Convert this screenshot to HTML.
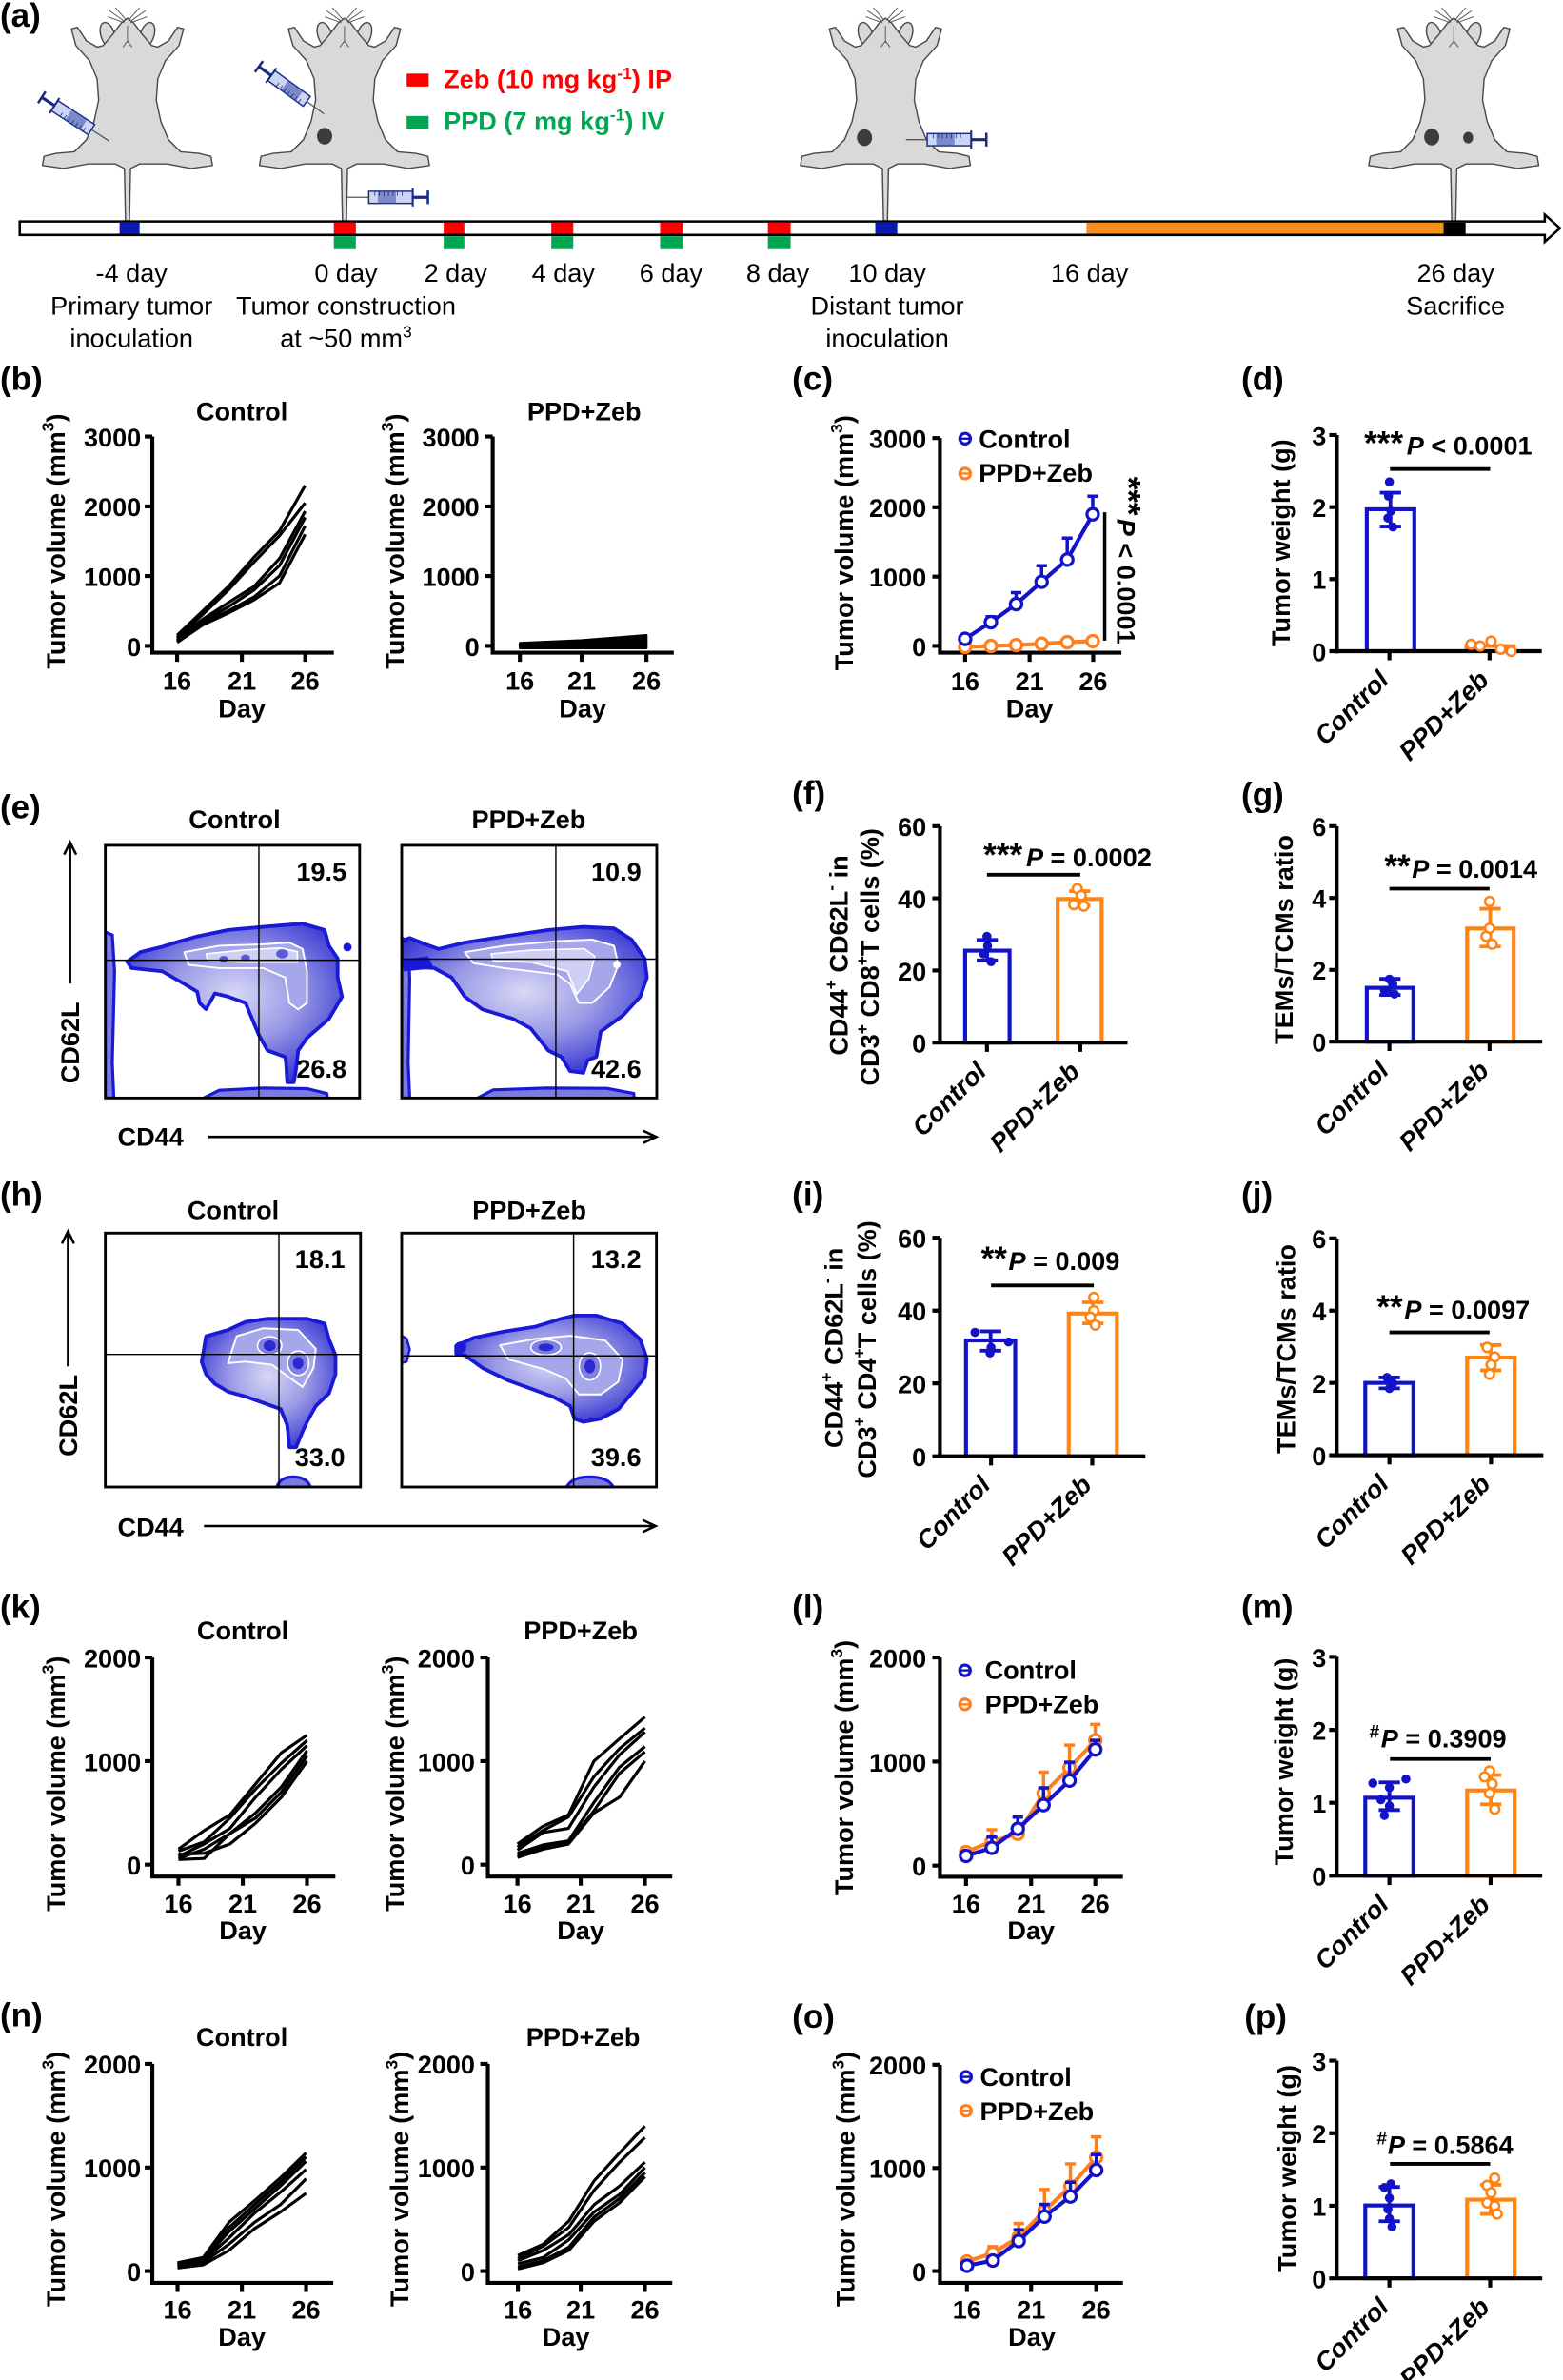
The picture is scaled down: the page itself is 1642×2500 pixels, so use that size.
<!DOCTYPE html>
<html><head><meta charset="utf-8">
<style>
html,body{margin:0;padding:0;background:#fff;}
svg{display:block;}
text{font-family:"Liberation Sans",Arial,sans-serif;font-weight:bold;font-size:17px;fill:#000;}
.r{font-weight:normal;}
.L{font-size:22px;}
.i{font-style:italic;}
</style></head><body>
<svg width="1642" height="2500" viewBox="0 0 1030 1568" preserveAspectRatio="none" xmlns="http://www.w3.org/2000/svg">
<defs>
<radialGradient id="cg" cx="50%" cy="45%" r="60%">
<stop offset="0" stop-color="#d8d8f6"/><stop offset="0.5" stop-color="#9898e6"/><stop offset="1" stop-color="#3434d2"/>
</radialGradient>
<g id="mouse">
<ellipse cx="-13" cy="23" rx="4.5" ry="8.5" transform="rotate(-18 -13 23)" fill="#d9d9d9" stroke="#4a4a4a" stroke-width="0.9"/>
<ellipse cx="13" cy="23" rx="4.5" ry="8.5" transform="rotate(18 13 23)" fill="#d9d9d9" stroke="#4a4a4a" stroke-width="0.9"/>
<path d="M-37,19 L-33,18 L-27,27 L-20,31 L-16,30 L-10,23 L-4,15 L0,12 L4,15 L10,23 L16,30 L20,31 L27,27 L33,18 L37,19 L34,30 L25,40 L20,52 L19,66 L22,80 L27,92 L35,100 L47,101 L55,103 L56,109 L42,111 L26,108 L8,108 L2,111 L1.3,145.6 L-1.3,145.6 L-2,111 L-8,108 L-26,108 L-42,111 L-56,109 L-55,103 L-47,101 L-35,100 L-27,92 L-22,80 L-19,66 L-20,52 L-25,40 L-34,30 Z" fill="#d9d9d9" stroke="#4a4a4a" stroke-width="0.9" stroke-linejoin="round"/>
<path d="M-2,14 L-12,7 M-2,15 L-13,11 M-1,13 L-8,5 M2,14 L12,7 M2,15 L13,11 M1,13 L8,5 M0,17 V28 M-3,31 L0,27 L3,31" stroke="#555" stroke-width="0.6" fill="none"/>
</g>
<g id="syr">
<line x1="0" y1="0" x2="14" y2="0" stroke="#555" stroke-width="0.8"/>
<rect x="14" y="-4" width="29" height="8" fill="#cdd5f4" stroke="#1a2a80" stroke-width="0.9"/>
<rect x="20" y="-4" width="12" height="8" fill="#3a4aa8" opacity="0.55"/>
<path d="M18,-4 V-1 M21,-4 V-1 M24,-4 V-1 M27,-4 V-1 M30,-4 V-1 M33,-4 V-1 M36,-4 V-1" stroke="#1a2a80" stroke-width="0.5"/>
<line x1="43" y1="-6" x2="43" y2="6" stroke="#1a2a80" stroke-width="1.3"/>
<line x1="43" y1="0" x2="53" y2="0" stroke="#1a2a80" stroke-width="2"/>
<line x1="53" y1="-4.5" x2="53" y2="4.5" stroke="#1a2a80" stroke-width="1.6"/>
</g>
<clipPath id="ce1"><rect x="69.4" y="556.9" width="167.6" height="166.5"/></clipPath>
<clipPath id="ce2"><rect x="264.7" y="556.9" width="168.1" height="166.5"/></clipPath>
<clipPath id="ch1"><rect x="69.4" y="812.4" width="168.2" height="167.3"/></clipPath>
<clipPath id="ch2"><rect x="264.7" y="812.4" width="167.9" height="167.3"/></clipPath>
</defs>

<!-- ================= (a) ================= -->
<text class="L" x="0" y="17.5">(a)</text>
<use href="#mouse" x="84"/>
<use href="#mouse" x="227"/>
<use href="#mouse" x="583.5"/>
<use href="#mouse" x="958"/>
<ellipse cx="213.9" cy="89.7" rx="5" ry="5.5" fill="#3c3c3c"/>
<ellipse cx="569.7" cy="90.7" rx="5" ry="5.5" fill="#3c3c3c"/>
<ellipse cx="943.5" cy="90.3" rx="5" ry="5.5" fill="#3c3c3c"/>
<ellipse cx="967.5" cy="90.7" rx="3.3" ry="3.8" fill="#3c3c3c"/>
<use href="#syr" transform="translate(72,93) rotate(213)"/>
<use href="#syr" transform="translate(213.5,75) rotate(216)"/>
<use href="#syr" transform="translate(229,130)"/>
<use href="#syr" transform="translate(597,92)"/>

<rect x="268" y="48.5" width="14.5" height="8.5" fill="#ff0000"/>
<text x="292.4" y="58" fill="#ff0000" style="fill:#ff0000">Zeb (10 mg kg<tspan dy="-6" font-size="11">-1</tspan><tspan dy="6">) IP</tspan></text>
<rect x="268" y="76.4" width="14.5" height="8.5" fill="#00a651"/>
<text x="292.4" y="85.5" style="fill:#00a651">PPD (7 mg kg<tspan dy="-6" font-size="11">-1</tspan><tspan dy="6">) IV</tspan></text>

<path d="M13,145.9 L1018,145.9 L1018,141.4 L1028,150.35 L1018,159.3 L1018,154.8 L13,154.8 Z" fill="#fff" stroke="#000" stroke-width="1.6"/>
<rect x="716" y="146.7" width="235.3" height="7.3" fill="#f7901e"/>
<rect x="951.3" y="146.7" width="14.5" height="7.3" fill="#000"/>
<rect x="78.8" y="146.7" width="13.2" height="7.3" fill="#0a1ab0"/>
<rect x="576.8" y="146.7" width="14.5" height="7.3" fill="#0a1ab0"/>
<g fill="#ff0000">
<rect x="220" y="146.7" width="14.5" height="7.3"/><rect x="292.4" y="146.7" width="13.6" height="7.3"/><rect x="363.3" y="146.7" width="14.5" height="7.3"/><rect x="435" y="146.7" width="15" height="7.3"/><rect x="506" y="146.7" width="15" height="7.3"/>
</g>
<g fill="#00a651">
<rect x="220" y="155.7" width="14.5" height="8.5"/><rect x="292.4" y="155.7" width="13.6" height="8.5"/><rect x="363.3" y="155.7" width="14.5" height="8.5"/><rect x="435" y="155.7" width="15" height="8.5"/><rect x="506" y="155.7" width="15" height="8.5"/>
</g>
<g class="r" text-anchor="middle">
<text class="r" x="86.7" y="185.5">-4 day</text>
<text class="r" x="228" y="185.5">0 day</text>
<text class="r" x="300.3" y="185.5">2 day</text>
<text class="r" x="371.2" y="185.5">4 day</text>
<text class="r" x="442.2" y="185.5">6 day</text>
<text class="r" x="512.5" y="185.5">8 day</text>
<text class="r" x="584.7" y="185.5">10 day</text>
<text class="r" x="718" y="185.5">16 day</text>
<text class="r" x="959.2" y="185.5">26 day</text>
<text class="r" x="86.7" y="207.4">Primary tumor</text>
<text class="r" x="86.7" y="228.5">inoculation</text>
<text class="r" x="228" y="207.4">Tumor construction</text>
<text class="r" x="228" y="228.5">at ~50 mm<tspan dy="-6" font-size="11">3</tspan></text>
<text class="r" x="584.7" y="207.4">Distant tumor</text>
<text class="r" x="584.7" y="228.5">inoculation</text>
<text class="r" x="959.2" y="207.4">Sacrifice</text>
</g>

<!-- ================= (b) ================= -->
<text class="L" x="0" y="257">(b)</text>
<text x="159.4" y="277" text-anchor="middle">Control</text>
<text x="385" y="277" text-anchor="middle">PPD+Zeb</text>
<g stroke="#000" stroke-width="2.6" fill="none">
<path d="M100.4,287.6 V431.3 M99.1,430 H220 M95.4,287.6 H100.4 M95.4,333.6 H100.4 M95.4,379.5 H100.4 M95.4,425.5 H100.4 M116.7,430 V436 M159.4,430 V436 M201.1,430 V436"/>
<path d="M324.7,287.6 V431.3 M323.4,430 H444 M319.7,287.6 H324.7 M319.7,333.6 H324.7 M319.7,379.5 H324.7 M319.7,425.5 H324.7 M342.6,430 V436 M383.3,430 V436 M426,430 V436"/>
</g>
<g stroke="#000" stroke-width="2" fill="none" stroke-linejoin="round">
<polyline points="116.7,418.6 133.6,402.5 150.5,386.4 167.4,367.1 184.2,349.7 201.1,319.8"/>
<polyline points="116.7,420 133.6,404.8 150.5,388.7 167.4,370.3 184.2,352.9 201.1,331.3"/>
<polyline points="116.7,420.9 133.6,408 150.5,397 167.4,386.4 184.2,368 201.1,336.8"/>
<polyline points="116.7,421.8 133.6,409.4 150.5,399.8 167.4,388.7 184.2,372.6 201.1,340.9"/>
<polyline points="116.7,422.7 133.6,410.8 150.5,402.5 167.4,393.3 184.2,379.5 201.1,346.4"/>
<polyline points="116.7,423.2 133.6,411.7 150.5,403.9 167.4,395.2 184.2,384.1 201.1,352"/>
</g>
<polygon points="342.6,423.6 383.3,421.8 426,418.5 426,427 342.6,427" fill="#000" stroke="#000" stroke-width="1.5" stroke-linejoin="round"/>
<g text-anchor="end">
<text x="93" y="294.1">3000</text><text x="93" y="340.1">2000</text><text x="93" y="386">1000</text><text x="93" y="432">0</text>
<text x="316" y="294.1">3000</text><text x="316" y="340.1">2000</text><text x="316" y="386">1000</text><text x="316" y="432">0</text>
</g>
<g text-anchor="middle">
<text x="116.7" y="454.5">16</text><text x="159.4" y="454.5">21</text><text x="201.1" y="454.5">26</text>
<text x="159.4" y="472.5">Day</text>
<text x="342.6" y="454.5">16</text><text x="383.3" y="454.5">21</text><text x="426" y="454.5">26</text>
<text x="384" y="472.5">Day</text>
<text transform="translate(42.5,356.6) rotate(-90)">Tumor volume (mm<tspan dy="-7" font-size="11">3</tspan><tspan dy="7">)</tspan></text>
<text transform="translate(266,356.6) rotate(-90)">Tumor volume (mm<tspan dy="-7" font-size="11">3</tspan><tspan dy="7">)</tspan></text>
</g>

<!-- ================= (c) ================= -->
<text class="L" x="522" y="257">(c)</text>
<g stroke="#000" stroke-width="2.6" fill="none">
<path d="M619.4,288.6 V431.3 M618.1,430 H739 M614.4,288.6 H619.4 M614.4,334.2 H619.4 M614.4,379.9 H619.4 M614.4,425.5 H619.4 M636,430 V436 M678.5,430 V436 M720.4,430 V436"/>
<path d="M728,337.5 V422" stroke-width="2.2"/>
</g>
<g text-anchor="end">
<text x="610.5" y="295.1">3000</text><text x="610.5" y="340.7">2000</text><text x="610.5" y="386.4">1000</text><text x="610.5" y="432">0</text>
</g>
<g text-anchor="middle">
<text x="636" y="454.8">16</text><text x="678.5" y="454.8">21</text><text x="720.4" y="454.8">26</text>
<text x="678.5" y="472.5">Day</text>
<text transform="translate(562,357.6) rotate(-90)">Tumor volume (mm<tspan dy="-7" font-size="11">3</tspan><tspan dy="7">)</tspan></text>
</g>
<text transform="translate(736,314) rotate(90)"><tspan font-size="22">***</tspan><tspan dx="2" class="i" font-style="italic">P</tspan> &lt; 0.0001</text>
<g stroke="#ff7f1e" stroke-width="2.6" fill="none">
<polyline points="636,426.2 653,425.6 669.6,425 686.4,424.1 703.3,423.1 720.1,422.4"/>
</g>
<g stroke="#ff7f1e" stroke-width="2" fill="#fff">
<circle cx="636" cy="426.2" r="3.8"/><circle cx="653" cy="425.6" r="3.8"/><circle cx="669.6" cy="425" r="3.8"/><circle cx="686.4" cy="424.1" r="3.8"/><circle cx="703.3" cy="423.1" r="3.8"/><circle cx="720.1" cy="422.4" r="3.8"/>
</g>
<g stroke="#1212c8" stroke-width="2.2" fill="none">
<polyline points="636,420.9 653,409.9 669.6,398 686.4,383.3 703.3,368.7 720.1,338.8" stroke-width="2.6"/>
<path d="M653,409.9 V406.3 M649.5,406.3 H656.5 M669.6,398 V390.4 M666.1,390.4 H673.1 M686.4,383.3 V372.7 M682.9,372.7 H689.9 M703.3,368.7 V354.5 M699.8,354.5 H706.8 M720.1,338.8 V326.9 M716.6,326.9 H723.6"/>
</g>
<g stroke="#1212c8" stroke-width="2" fill="#fff">
<circle cx="636" cy="420.9" r="3.8"/><circle cx="653" cy="409.9" r="3.8"/><circle cx="669.6" cy="398" r="3.8"/><circle cx="686.4" cy="383.3" r="3.8"/><circle cx="703.3" cy="368.7" r="3.8"/><circle cx="720.1" cy="338.8" r="3.8"/>
</g>
<circle cx="636" cy="289" r="3.5" stroke="#1212c8" stroke-width="2" fill="#fff"/>
<line x1="633" y1="289" x2="639" y2="289" stroke="#1212c8" stroke-width="1.5"/>
<circle cx="636" cy="312" r="3.5" stroke="#ff7f1e" stroke-width="2" fill="#fff"/>
<line x1="633" y1="312" x2="639" y2="312" stroke="#ff7f1e" stroke-width="1.5"/>
<text x="645" y="295">Control</text>
<text x="645" y="317.5">PPD+Zeb</text>

<!-- ================= (d) ================= -->
<text class="L" x="818" y="257">(d)</text>
<rect x="900.7" y="335.5" width="31.3" height="93.5" fill="#fff" stroke="#1212c8" stroke-width="2.6"/>
<rect x="966.3" y="425.6" width="31.3" height="3.4" fill="#fff" stroke="#ff7f1e" stroke-width="2.4"/>
<g stroke="#000" stroke-width="2.6" fill="none">
<path d="M881,286.6 V430.5 M879.7,429 H1016 M876,286.6 H881 M876,334.1 H881 M876,381.5 H881 M876,429 H881 M915.6,429 V435 M981.6,429 V435"/>
<path d="M916,309 H982" stroke-width="2.4"/>
</g>
<path d="M916.3,346.9 V324.6 M909.3,324.6 H923.3 M909.3,346.9 H923.3" stroke="#1212c8" stroke-width="2.4" fill="none"/>
<g fill="#1212c8">
<circle cx="915.6" cy="317.5" r="3"/><circle cx="915" cy="326.9" r="3"/><circle cx="916.6" cy="336.7" r="3"/><circle cx="914.6" cy="341.3" r="3"/><circle cx="917.9" cy="347.2" r="3"/>
</g>
<g stroke="#ff7f1e" stroke-width="1.6" fill="#fff">
<circle cx="969.4" cy="424.5" r="3"/><circle cx="975.4" cy="425.6" r="3"/><circle cx="982.6" cy="422.4" r="3"/><circle cx="988.9" cy="427.7" r="3"/><circle cx="995.8" cy="429.1" r="3"/>
</g>
<g text-anchor="end">
<text x="874" y="293.1">3</text><text x="874" y="340.6">2</text><text x="874" y="388">1</text><text x="874" y="435.5">0</text>
<text class="i" transform="translate(916.1,449) rotate(-45)">Control</text>
<text class="i" transform="translate(982.1,449) rotate(-45)">PPD+Zeb</text>
</g>
<text text-anchor="middle" transform="translate(850,357.6) rotate(-90)">Tumor weight (g)</text>
<text x="899" y="299.5"><tspan font-size="22">***</tspan><tspan dx="2.3" class="i">P</tspan> &lt; 0.0001</text>

<!-- ================= (e) ================= -->
<text class="L" x="0" y="539">(e)</text>
<text x="154.6" y="545.8" text-anchor="middle">Control</text>
<text x="348.4" y="545.8" text-anchor="middle">PPD+Zeb</text>
<g clip-path="url(#ce1)">
<path d="M69.4,614 L74,616 L75.5,640 L74,700 L75,723.4 L69.4,723.4 Z" fill="#7c7ce0" stroke="#1a1ad6" stroke-width="2"/>
<path d="M133,724 L144.5,718.3 L173.4,716.8 L202.3,717.2 L215.3,720.4 L216,724 Z" fill="#7c7ce0" stroke="#1a1ad6" stroke-width="2"/>
<path d="M83.8,633.6 L92.5,627.3 L106,624 L115.6,621 L130,616.9 L150.3,612.7 L173.4,610.6 L199.4,608.5 L213.9,612.7 L216.8,623.1 L222.5,631.5 L222.5,644 L225.4,656.6 L216.8,671.2 L202.3,683.8 L196.5,692.1 L195,705 L193.6,713 L189.3,713 L188.5,700 L187.9,696.3 L176.3,692.1 L170.5,681.7 L161.8,660.8 L150.3,656.6 L141.6,654.5 L135.8,664.9 L131.5,660.8 L130,653.4 L121.4,648.2 L106.9,639.9 L86.7,637.8 Z" fill="url(#cg)" stroke="#1a1ad6" stroke-width="2.4" stroke-linejoin="round"/>
<path d="M121.4,627.3 L144.5,623.1 L173.4,622.1 L190.7,621 L199.4,625.2 L202.3,639.9 L202.3,660.8 L196.5,665 L190.7,660.8 L187.9,644 L173.4,637.8 L144.5,637.8 L124.3,635.7 Z" fill="#a6a6ea" stroke="#fff" stroke-width="1.2" stroke-linejoin="round"/>
<path d="M135.8,628.4 L160,626 L185,624.5 L196,627 L196,634 L180,634 L160,634 L137,633 Z" fill="#d0d0f4" stroke="#fff" stroke-width="1" stroke-linejoin="round"/>
<ellipse cx="147.4" cy="632" rx="3" ry="2.2" fill="#5a5adc"/>
<ellipse cx="161.8" cy="631" rx="3" ry="2.2" fill="#5a5adc"/>
<ellipse cx="186" cy="628.4" rx="4" ry="3" fill="#5a5adc"/>
<circle cx="229" cy="624" r="2.8" fill="#1a1ad6"/>
</g>
<g clip-path="url(#ce2)">
<path d="M264.7,618 L269,620 L270,645 L269,700 L270,723.4 L264.7,723.4 Z" fill="#7c7ce0" stroke="#1a1ad6" stroke-width="2"/>
<path d="M313.6,724 L325,718 L360,716.8 L400,717 L417.6,720.4 L418,724 Z" fill="#7c7ce0" stroke="#1a1ad6" stroke-width="2"/>
<path d="M264.7,620 L270,618 L280,622 L289,625.2 L306.3,621 L332.4,616.9 L361.3,612.7 L384.4,610.6 L404.6,611.6 L416.2,619 L424.8,631.5 L426.3,644 L421.9,656.6 L410.4,669.1 L395.9,679.6 L393,696.3 L387.3,698.4 L384.4,706.8 L375.7,705.7 L369.9,696.3 L361.3,692.1 L349.7,677.5 L338.1,671.2 L317.9,665 L306.3,656.6 L297.7,644 L286.1,637.8 L264.7,636.7 Z" fill="url(#cg)" stroke="#1a1ad6" stroke-width="2.4" stroke-linejoin="round"/>
<path d="M306.3,627.3 L332.4,623.1 L367,620 L390.2,619 L404.6,623.1 L407.5,635.7 L401.7,650.3 L390.2,660.8 L381.5,660.8 L375.7,648.2 L367,641.9 L332.4,637.8 L312.1,634.6 Z" fill="#a6a6ea" stroke="#fff" stroke-width="1.2" stroke-linejoin="round"/>
<path d="M323.7,628.4 L350,626 L385,625 L392,630 L388,645 L380,655 L374,640 L350,634 L325,633 Z" fill="#d0d0f4" stroke="#fff" stroke-width="1" stroke-linejoin="round"/>
<circle cx="406.5" cy="635.5" r="2.5" fill="#fff"/>
<path d="M266,632 L282,630 L286,638 L266,640 Z" fill="#1a1ad6"/>
</g>
<g stroke="#000" fill="none">
<rect x="69.4" y="556.9" width="167.6" height="166.5" stroke-width="1.8"/>
<rect x="264.7" y="556.9" width="168.1" height="166.5" stroke-width="1.8"/>
<path d="M170.6,556.9 V723.4 M69.4,632.6 H237 M366.3,556.9 V723.4 M264.7,631.9 H432.8" stroke-width="0.9"/>
</g>
<g text-anchor="end">
<text x="228.4" y="580.3">19.5</text><text x="228.4" y="710">26.8</text>
<text x="422.6" y="580.3">10.9</text><text x="422.6" y="710">42.6</text>
</g>
<path d="M46.2,648 V556 M42.2,563 L46.2,555 L50.2,563" stroke="#000" stroke-width="1.6" fill="none"/>
<text text-anchor="middle" transform="translate(52,687) rotate(-90)">CD62L</text>
<text x="77.5" y="754.9">CD44</text>
<path d="M137.3,749 H432 M424,745 L432.5,749 L424,753" stroke="#000" stroke-width="1.6" fill="none"/>

<!-- ================= (f) ================= -->
<text class="L" x="522" y="530">(f)</text>
<rect x="636" y="626.3" width="29.3" height="60.6" fill="#fff" stroke="#1212c8" stroke-width="2.6"/>
<rect x="697" y="592.3" width="29" height="94.6" fill="#fff" stroke="#ff8412" stroke-width="2.6"/>
<g stroke="#000" stroke-width="2.6" fill="none">
<path d="M619.4,544.3 V688.2 M618.1,686.9 H743 M614.4,544.3 H619.4 M614.4,591.8 H619.4 M614.4,639.4 H619.4 M614.4,686.9 H619.4 M650.4,686.9 V693 M711.9,686.9 V693"/>
<path d="M650.4,576.3 H711.9" stroke-width="2.4"/>
</g>
<path d="M650.6,632.7 V619.2 M643.6,619.2 H657.6 M643.6,632.7 H657.6" stroke="#1212c8" stroke-width="2.4" fill="none"/>
<path d="M711.5,596.6 V587.1 M704.5,587.1 H718.5 M704.5,596.6 H718.5" stroke="#ff8412" stroke-width="2.4" fill="none"/>
<g fill="#1212c8"><circle cx="650.4" cy="616.9" r="3"/><circle cx="650.8" cy="623.1" r="3"/><circle cx="648.1" cy="628.4" r="3"/><circle cx="653.1" cy="633.6" r="3"/></g>
<g stroke="#ff8412" stroke-width="1.6" fill="#fff"><circle cx="709.9" cy="585.5" r="3"/><circle cx="712.5" cy="590" r="3"/><circle cx="707.6" cy="596" r="3"/><circle cx="714.2" cy="597" r="3"/></g>
<g text-anchor="end">
<text x="610.5" y="550.8">60</text><text x="610.5" y="598.3">40</text><text x="610.5" y="645.9">20</text><text x="610.5" y="693.4">0</text>
<text class="i" transform="translate(650.9,706.9) rotate(-45)">Control</text>
<text class="i" transform="translate(712.4,706.9) rotate(-45)">PPD+Zeb</text>
</g>
<text text-anchor="middle" transform="translate(558.5,629.4) rotate(-90)">CD44<tspan dy="-7" font-size="11">+</tspan><tspan dy="7"> CD62L</tspan><tspan dy="-7" font-size="11">-</tspan><tspan dy="7"> in</tspan></text>
<text text-anchor="middle" transform="translate(579,630.5) rotate(-90)">CD3<tspan dy="-7" font-size="11">+</tspan><tspan dy="7"> CD8</tspan><tspan dy="-7" font-size="11">+</tspan><tspan dy="7">T cells (%)</tspan></text>
<text x="648.1" y="570.9"><tspan font-size="22">***</tspan><tspan dx="2.4" class="i">P</tspan> = 0.0002</text>

<!-- ================= (g) ================= -->
<text class="L" x="818" y="531">(g)</text>
<rect x="900.7" y="650.8" width="30.7" height="35.5" fill="#fff" stroke="#1212c8" stroke-width="2.6"/>
<rect x="966.8" y="611.7" width="30.7" height="74.6" fill="#fff" stroke="#ff8412" stroke-width="2.6"/>
<g stroke="#000" stroke-width="2.6" fill="none">
<path d="M880.9,544.3 V687.6 M879.6,686.3 H1016.3 M875.9,544.3 H880.9 M875.9,591.6 H880.9 M875.9,639 H880.9 M875.9,686.3 H880.9 M915.6,686.3 V692.4 M981.6,686.3 V692.4"/>
<path d="M915.6,585.5 H981.6" stroke-width="2.4"/>
</g>
<path d="M916,655.5 V644.9 M909,644.9 H923 M909,655.5 H923" stroke="#1212c8" stroke-width="2.4" fill="none"/>
<path d="M982,623.6 V598.7 M975,598.7 H989 M975,623.6 H989" stroke="#ff8412" stroke-width="2.4" fill="none"/>
<g fill="#1212c8"><circle cx="915.6" cy="645.1" r="3"/><circle cx="917.9" cy="648.2" r="3"/><circle cx="912.3" cy="652.4" r="3"/><circle cx="918.9" cy="654.9" r="3"/></g>
<g stroke="#ff8412" stroke-width="1.6" fill="#fff"><circle cx="981.6" cy="593.9" r="3"/><circle cx="981.6" cy="611.6" r="3"/><circle cx="979.3" cy="616.9" r="3"/><circle cx="983.3" cy="622.1" r="3"/></g>
<g text-anchor="end">
<text x="874" y="550.8">6</text><text x="874" y="598.1">4</text><text x="874" y="645.5">2</text><text x="874" y="692.8">0</text>
<text class="i" transform="translate(916.1,706.3) rotate(-45)">Control</text>
<text class="i" transform="translate(982.1,706.3) rotate(-45)">PPD+Zeb</text>
</g>
<text text-anchor="middle" transform="translate(852,619) rotate(-90)">TEMs/TCMs ratio</text>
<text x="912.3" y="578.2"><tspan font-size="22">**</tspan><tspan dx="1" class="i">P</tspan> = 0.0014</text>

<!-- ================= (h) ================= -->
<text class="L" x="0" y="794.5">(h)</text>
<text x="153.7" y="803" text-anchor="middle">Control</text>
<text x="348.8" y="803" text-anchor="middle">PPD+Zeb</text>
<g clip-path="url(#ch1)">
<path d="M182,981 Q184,973 193,973 Q203,973 205,981 Z" fill="#7c7ce0" stroke="#1a1ad6" stroke-width="2"/>
<path d="M135.8,880.3 L150.3,876.2 L161.8,870.9 L176.3,868.8 L202.3,868.8 L213.9,872 L216.8,882.4 L221.1,892.9 L221.1,905.4 L216.8,918 L208.1,926.3 L202.3,936.8 L199.4,943.1 L195.1,953.5 L190.7,953.5 L189.3,938.9 L185,928.4 L173.4,924.2 L161.8,920.1 L150.3,916.9 L141.6,911.7 L135.8,905.4 L132.9,897.1 L134.4,888.7 Z" fill="url(#cg)" stroke="#1a1ad6" stroke-width="2.4" stroke-linejoin="round"/>
<path d="M156,880.3 L173.4,875.1 L196.5,876.2 L208.1,888.7 L206.6,901.2 L199.4,913.8 L190.7,907.5 L179.2,899.1 L161.8,897.1 L150.3,898.1 L153.2,888.7 Z" fill="#a6a6ea" stroke="#fff" stroke-width="1.2" stroke-linejoin="round"/>
<ellipse cx="177.7" cy="886.6" rx="8" ry="6" fill="#8080e0" stroke="#fff" stroke-width="1"/>
<ellipse cx="196.5" cy="898.1" rx="7" ry="8" fill="#8080e0" stroke="#fff" stroke-width="1"/>
<ellipse cx="177.7" cy="886.6" rx="4" ry="3.5" fill="#2a2ad0"/>
<ellipse cx="196.5" cy="898.1" rx="3.5" ry="4" fill="#2a2ad0"/>
</g>
<g clip-path="url(#ch2)">
<path d="M264.7,880 L268,882 L270,889 L268,897 L264.7,898 Z" fill="#7c7ce0" stroke="#1a1ad6" stroke-width="1.6"/>
<path d="M372.8,981 Q376,973 388,973 Q402,973 404.6,981 Z" fill="#7c7ce0" stroke="#1a1ad6" stroke-width="2"/>
<path d="M300.6,886.6 L312.1,881.4 L332.4,877.2 L352.6,874.1 L369.9,868.8 L378.6,866.7 L393,866.7 L410.4,872 L421.9,882.4 L426.3,895 L424.8,907.5 L416.2,918 L407.5,928.4 L395.9,934.7 L384.4,936.8 L378.6,934.7 L375.7,926.3 L364.1,920.1 L346.8,913.8 L335.2,909.6 L317.9,901.2 L306.3,892.9 L300.6,891.8 Z" fill="url(#cg)" stroke="#1a1ad6" stroke-width="2.4" stroke-linejoin="round"/>
<path d="M329.5,886.3 L352.6,882.1 L375.7,880 L398.8,883.1 L410.4,895.7 L407.5,910.3 L395.9,918.7 L381.5,918.7 L372.8,908.2 L358.4,902 L335.2,895.7 Z" fill="#a6a6ea" stroke="#fff" stroke-width="1.2" stroke-linejoin="round"/>
<ellipse cx="359.8" cy="887.7" rx="10" ry="5" fill="#8080e0" stroke="#fff" stroke-width="1"/>
<ellipse cx="388.7" cy="900.2" rx="7" ry="9" fill="#8080e0" stroke="#fff" stroke-width="1"/>
<ellipse cx="359.8" cy="887.7" rx="5" ry="2.5" fill="#2a2ad0"/>
<ellipse cx="388.7" cy="900.2" rx="3.5" ry="4.5" fill="#2a2ad0"/>
<circle cx="303.5" cy="887.6" r="3.8" fill="#1a1ad6"/>
</g>
<g stroke="#000" fill="none">
<rect x="69.4" y="812.4" width="168.2" height="167.3" stroke-width="1.8"/>
<rect x="264.7" y="812.4" width="167.9" height="167.3" stroke-width="1.8"/>
<path d="M183.8,812.4 V979.7 M69.4,892.3 H237.6 M378,812.4 V979.7 M264.7,893.3 H432.6" stroke-width="0.9"/>
</g>
<g text-anchor="end">
<text x="227.4" y="835.4">18.1</text><text x="227.4" y="966">33.0</text>
<text x="422.5" y="835.4">13.2</text><text x="422.5" y="966">39.6</text>
</g>
<path d="M44.8,900.2 V812.3 M40.8,819.3 L44.8,811.3 L48.8,819.3" stroke="#000" stroke-width="1.6" fill="none"/>
<text text-anchor="middle" transform="translate(50.8,932.6) rotate(-90)">CD62L</text>
<text x="77.5" y="1012">CD44</text>
<path d="M134.4,1005.4 H431.5 M423.5,1001.4 L432,1005.4 L423.5,1009.4" stroke="#000" stroke-width="1.6" fill="none"/>

<!-- ================= (i) ================= -->
<text class="L" x="522" y="794.5">(i)</text>
<rect x="636.6" y="883.1" width="32.4" height="76.3" fill="#fff" stroke="#1212c8" stroke-width="2.6"/>
<rect x="704.3" y="865.4" width="31.7" height="94" fill="#fff" stroke="#ff8412" stroke-width="2.6"/>
<g stroke="#000" stroke-width="2.6" fill="none">
<path d="M619.4,815.5 V960.7 M618.1,959.4 H754.8 M614.4,815.5 H619.4 M614.4,863.5 H619.4 M614.4,911.4 H619.4 M614.4,959.4 H619.4 M653.1,959.4 V965.5 M719.8,959.4 V965.5"/>
<path d="M653.1,846.9 H720.8" stroke-width="2.4"/>
</g>
<path d="M652.8,889.9 V877.1 M645.8,877.1 H659.8 M645.8,889.9 H659.8" stroke="#1212c8" stroke-width="2.4" fill="none"/>
<path d="M720.2,871.9 V858 M713.2,858 H727.2 M713.2,871.9 H727.2" stroke="#ff8412" stroke-width="2.4" fill="none"/>
<g fill="#1212c8"><circle cx="642.5" cy="877.8" r="3"/><circle cx="664.6" cy="884.1" r="3"/><circle cx="653.1" cy="887.7" r="3"/><circle cx="652.4" cy="891.4" r="3"/></g>
<g stroke="#ff8412" stroke-width="1.6" fill="#fff"><circle cx="720.8" cy="854.8" r="3"/><circle cx="720.8" cy="863.6" r="3"/><circle cx="718.5" cy="867.8" r="3"/><circle cx="721.8" cy="873" r="3"/></g>
<g text-anchor="end">
<text x="610.5" y="822">60</text><text x="610.5" y="870">40</text><text x="610.5" y="917.9">20</text><text x="610.5" y="965.9">0</text>
<text class="i" transform="translate(653.6,979.4) rotate(-45)">Control</text>
<text class="i" transform="translate(720.3,979.4) rotate(-45)">PPD+Zeb</text>
</g>
<text text-anchor="middle" transform="translate(555.5,888) rotate(-90)">CD44<tspan dy="-7" font-size="11">+</tspan><tspan dy="7"> CD62L</tspan><tspan dy="-7" font-size="11">-</tspan><tspan dy="7"> in</tspan></text>
<text text-anchor="middle" transform="translate(577,889) rotate(-90)">CD3<tspan dy="-7" font-size="11">+</tspan><tspan dy="7"> CD4</tspan><tspan dy="-7" font-size="11">+</tspan><tspan dy="7">T cells (%)</tspan></text>
<text x="646.5" y="836.8"><tspan font-size="22">**</tspan><tspan dx="1" class="i">P</tspan> = 0.009</text>

<!-- ================= (j) ================= -->
<text class="L" x="818" y="794.5">(j)</text>
<rect x="899.7" y="911.1" width="31.7" height="47.6" fill="#fff" stroke="#1212c8" stroke-width="2.6"/>
<rect x="966.8" y="894.4" width="31.3" height="64.3" fill="#fff" stroke="#ff8412" stroke-width="2.6"/>
<g stroke="#000" stroke-width="2.6" fill="none">
<path d="M880.9,815.9 V960 M879.6,958.7 H1017 M875.9,815.9 H880.9 M875.9,863.5 H880.9 M875.9,911.1 H880.9 M875.9,958.7 H880.9 M915.6,958.7 V964.8 M982.6,958.7 V964.8"/>
<path d="M915.6,877.8 H981.6" stroke-width="2.4"/>
</g>
<path d="M915.6,914.7 V907.5 M908.6,907.5 H922.6 M908.6,914.7 H922.6" stroke="#1212c8" stroke-width="2.4" fill="none"/>
<path d="M982.4,902.8 V886.1 M975.4,886.1 H989.4 M975.4,902.8 H989.4" stroke="#ff8412" stroke-width="2.4" fill="none"/>
<g fill="#1212c8"><circle cx="914" cy="907.5" r="3"/><circle cx="917.9" cy="911.3" r="3"/><circle cx="915.6" cy="914.8" r="3"/></g>
<g stroke="#ff8412" stroke-width="1.6" fill="#fff"><circle cx="980" cy="887.7" r="3"/><circle cx="985" cy="894" r="3"/><circle cx="982.6" cy="899.2" r="3"/><circle cx="981.6" cy="905.4" r="3"/></g>
<g text-anchor="end">
<text x="874" y="822.4">6</text><text x="874" y="870">4</text><text x="874" y="917.6">2</text><text x="874" y="965.2">0</text>
<text class="i" transform="translate(916.1,978.7) rotate(-45)">Control</text>
<text class="i" transform="translate(983.1,978.7) rotate(-45)">PPD+Zeb</text>
</g>
<text text-anchor="middle" transform="translate(853.5,888.7) rotate(-90)">TEMs/TCMs ratio</text>
<text x="907.3" y="868.8"><tspan font-size="22">**</tspan><tspan dx="1.1" class="i">P</tspan> = 0.0097</text>

<!-- ================= (k) ================= -->
<text class="L" x="0" y="1066">(k)</text>
<text x="160" y="1080" text-anchor="middle">Control</text>
<text x="382.7" y="1080" text-anchor="middle">PPD+Zeb</text>
<g stroke="#000" stroke-width="2.6" fill="none">
<path d="M100.4,1092 V1237.6 M99.1,1236.3 H221 M95.4,1092 H100.4 M95.4,1160.3 H100.4 M95.4,1228.5 H100.4 M117.6,1236.3 V1242.3 M160,1236.3 V1242.3 M202.3,1236.3 V1242.3"/>
<path d="M321.5,1092 V1237.6 M320.2,1236.3 H443 M316.5,1092 H321.5 M316.5,1160.3 H321.5 M316.5,1228.5 H321.5 M341,1236.3 V1242.3 M382.7,1236.3 V1242.3 M425,1236.3 V1242.3"/>
</g>
<g stroke="#000" stroke-width="2" fill="none" stroke-linejoin="round">
<polyline points="117.6,1218.3 134.5,1206 151.5,1195.7 168.4,1175.3 185.4,1154.8 202.3,1143.2"/>
<polyline points="117.6,1219.6 134.5,1213.5 151.5,1197.8 168.4,1178.7 185.4,1161.6 202.3,1146.6"/>
<polyline points="117.6,1223 134.5,1214.9 151.5,1204.6 168.4,1184.1 185.4,1165.7 202.3,1150"/>
<polyline points="117.6,1224.4 134.5,1218.3 151.5,1208 168.4,1194.4 185.4,1177.3 202.3,1153.4"/>
<polyline points="117.6,1225.1 134.5,1224.4 151.5,1208 168.4,1197.8 185.4,1180.7 202.3,1156.8"/>
<polyline points="117.6,1221.7 134.5,1221 151.5,1214.9 168.4,1201.2 185.4,1184.1 202.3,1160.3"/>
<polyline points="341,1214.9 357.8,1203.2 374.6,1195.7 391.4,1160.3 408.2,1145.6 425,1131.2"/>
<polyline points="341,1216.9 357.8,1206 374.6,1197.1 391.4,1170.5 408.2,1152.1 425,1138.4"/>
<polyline points="341,1218.9 357.8,1207.3 374.6,1204.6 391.4,1177.3 408.2,1156.2 425,1141.1"/>
<polyline points="341,1221 357.8,1215.5 374.6,1212.8 391.4,1187.5 408.2,1164.3 425,1150.7"/>
<polyline points="341,1222.4 357.8,1216.9 374.6,1214.2 391.4,1193 408.2,1168.4 425,1154.1"/>
<polyline points="341,1223.7 357.8,1218.3 374.6,1214.9 391.4,1194.4 408.2,1184.1 425,1160.3"/>
</g>
<g text-anchor="end">
<text x="93" y="1098.5">2000</text><text x="93" y="1166.8">1000</text><text x="93" y="1235">0</text>
<text x="313" y="1098.5">2000</text><text x="313" y="1166.8">1000</text><text x="313" y="1235">0</text>
</g>
<g text-anchor="middle">
<text x="117.6" y="1259.9">16</text><text x="160" y="1259.9">21</text><text x="202.3" y="1259.9">26</text>
<text x="160" y="1277.7">Day</text>
<text x="341" y="1259.9">16</text><text x="382.7" y="1259.9">21</text><text x="425" y="1259.9">26</text>
<text x="382.7" y="1277.7">Day</text>
<text transform="translate(42.5,1175.2) rotate(-90)">Tumor volume (mm<tspan dy="-7" font-size="11">3</tspan><tspan dy="7">)</tspan></text>
<text transform="translate(266,1175.2) rotate(-90)">Tumor volume (mm<tspan dy="-7" font-size="11">3</tspan><tspan dy="7">)</tspan></text>
</g>

<!-- ================= (l) ================= -->
<text class="L" x="522" y="1066">(l)</text>
<g stroke="#000" stroke-width="2.6" fill="none">
<path d="M619.4,1092 V1237.8 M618.1,1236.5 H740 M614.4,1092 H619.4 M614.4,1160.6 H619.4 M614.4,1229.1 H619.4 M636.6,1236.5 V1242.5 M679.5,1236.5 V1242.5 M721.8,1236.5 V1242.5"/>
</g>
<g stroke="#ff7f1e" stroke-width="2.2" fill="none">
<polyline points="636.6,1220.2 653.6,1213.2 670.7,1208.2 687.7,1181.5 704.8,1164.7 721.8,1146.6" stroke-width="2.6"/>
<path d="M653.6,1213.2 V1205.5 M650.1,1205.5 H657.1 M670.7,1208.2 V1203 M667.2,1203 H674.2 M687.7,1181.5 V1167.5 M684.2,1167.5 H691.2 M704.8,1164.7 V1149.7 M701.3,1149.7 H708.3 M721.8,1146.6 V1136.1 M718.3,1136.1 H725.3"/>
</g>
<g stroke="#ff7f1e" stroke-width="2" fill="#fff">
<circle cx="636.6" cy="1220.2" r="3.8"/><circle cx="653.6" cy="1213.2" r="3.8"/><circle cx="670.7" cy="1208.2" r="3.8"/><circle cx="687.7" cy="1181.5" r="3.8"/><circle cx="704.8" cy="1164.7" r="3.8"/><circle cx="721.8" cy="1146.6" r="3.8"/>
</g>
<g stroke="#1212c8" stroke-width="2.2" fill="none">
<polyline points="636.6,1222.7 653.6,1217.4 670.7,1204.9 687.7,1189.2 704.8,1173.1 721.8,1152.6" stroke-width="2.6"/>
<path d="M653.6,1217.4 V1210.3 M650.1,1210.3 H657.1 M670.7,1204.9 V1197.2 M667.2,1197.2 H674.2 M687.7,1189.2 V1177.9 M684.2,1177.9 H691.2 M704.8,1173.1 V1161 M701.3,1161 H708.3 M721.8,1152.6 V1146.6 M718.3,1146.6 H725.3"/>
</g>
<g stroke="#1212c8" stroke-width="2" fill="#fff">
<circle cx="636.6" cy="1222.7" r="3.8"/><circle cx="653.6" cy="1217.4" r="3.8"/><circle cx="670.7" cy="1204.9" r="3.8"/><circle cx="687.7" cy="1189.2" r="3.8"/><circle cx="704.8" cy="1173.1" r="3.8"/><circle cx="721.8" cy="1152.6" r="3.8"/>
</g>
<circle cx="635.9" cy="1100.5" r="3.5" stroke="#1212c8" stroke-width="2" fill="#fff"/>
<line x1="632.9" y1="1100.5" x2="638.9" y2="1100.5" stroke="#1212c8" stroke-width="1.5"/>
<circle cx="635.9" cy="1122.9" r="3.5" stroke="#ff7f1e" stroke-width="2" fill="#fff"/>
<line x1="632.9" y1="1122.9" x2="638.9" y2="1122.9" stroke="#ff7f1e" stroke-width="1.5"/>
<text x="649" y="1106.2">Control</text>
<text x="649" y="1128.6">PPD+Zeb</text>
<g text-anchor="end">
<text x="610.5" y="1098.5">2000</text><text x="610.5" y="1167.1">1000</text><text x="610.5" y="1235.6">0</text>
</g>
<g text-anchor="middle">
<text x="636.6" y="1259.9">16</text><text x="679.5" y="1259.9">21</text><text x="721.8" y="1259.9">26</text>
<text x="679.5" y="1277.7">Day</text>
<text transform="translate(562,1164.7) rotate(-90)">Tumor volume (mm<tspan dy="-7" font-size="11">3</tspan><tspan dy="7">)</tspan></text>
</g>

<!-- ================= (m) ================= -->
<text class="L" x="818" y="1066">(m)</text>
<rect x="899.7" y="1184.4" width="31.7" height="51.4" fill="#fff" stroke="#1212c8" stroke-width="2.6"/>
<rect x="966.8" y="1179.6" width="31.3" height="56.2" fill="#fff" stroke="#ff8412" stroke-width="2.6"/>
<g stroke="#000" stroke-width="2.6" fill="none">
<path d="M880.9,1091.6 V1237.1 M879.6,1235.8 H1016.3 M875.9,1091.6 H880.9 M875.9,1139.7 H880.9 M875.9,1187.7 H880.9 M875.9,1235.8 H880.9 M915.6,1235.8 V1241.9 M982.3,1235.8 V1241.9"/>
<path d="M916,1158.9 H982.3" stroke-width="2.4"/>
</g>
<path d="M915.6,1192.5 V1174.3 M908.6,1174.3 H922.6 M908.6,1192.5 H922.6" stroke="#1212c8" stroke-width="2.4" fill="none"/>
<path d="M982.4,1188.7 V1169.5 M975.4,1169.5 H989.4 M975.4,1188.7 H989.4" stroke="#ff8412" stroke-width="2.4" fill="none"/>
<g fill="#1212c8"><circle cx="904.7" cy="1174.8" r="3"/><circle cx="926.5" cy="1172.1" r="3"/><circle cx="915.6" cy="1177.7" r="3"/><circle cx="910" cy="1185.7" r="3"/><circle cx="915.6" cy="1189.8" r="3"/><circle cx="912.3" cy="1196.1" r="3"/></g>
<g stroke="#ff8412" stroke-width="1.6" fill="#fff"><circle cx="981.6" cy="1166.8" r="3"/><circle cx="978.3" cy="1170.6" r="3"/><circle cx="983.3" cy="1175.2" r="3"/><circle cx="981.6" cy="1181.5" r="3"/><circle cx="985" cy="1191.9" r="3"/></g>
<g text-anchor="end">
<text x="874" y="1098.1">3</text><text x="874" y="1146.2">2</text><text x="874" y="1194.2">1</text><text x="874" y="1242.3">0</text>
<text class="i" transform="translate(916.1,1255.8) rotate(-45)">Control</text>
<text class="i" transform="translate(982.8,1255.8) rotate(-45)">PPD+Zeb</text>
</g>
<text text-anchor="middle" transform="translate(852,1160.6) rotate(-90)">Tumor weight (g)</text>
<text x="902.4" y="1151.1"><tspan font-size="12" dy="-6">#</tspan><tspan dy="6" dx="1" class="i">P</tspan> = 0.3909</text>

<!-- ================= (n) ================= -->
<text class="L" x="0" y="1335">(n)</text>
<text x="159.4" y="1347.8" text-anchor="middle">Control</text>
<text x="384.3" y="1347.8" text-anchor="middle">PPD+Zeb</text>
<g stroke="#000" stroke-width="2.6" fill="none">
<path d="M100.4,1359.7 V1505.3 M99.1,1504 H219.6 M95.4,1359.7 H100.4 M95.4,1428 H100.4 M95.4,1496.2 H100.4 M117,1504 V1510 M159.4,1504 V1510 M201.7,1504 V1510"/>
<path d="M321.5,1359.7 V1505.3 M320.2,1504 H443 M316.5,1359.7 H321.5 M316.5,1428 H321.5 M316.5,1496.2 H321.5 M341.3,1504 V1510 M382.7,1504 V1510 M425,1504 V1510"/>
</g>
<g stroke="#000" stroke-width="2" fill="none" stroke-linejoin="round">
<polyline points="117,1490.7 133.9,1487.3 150.9,1464.1 167.8,1449.8 184.8,1434.8 201.7,1418.4"/>
<polyline points="117,1491.4 133.9,1488 150.9,1467.5 167.8,1452.5 184.8,1437.5 201.7,1421.1"/>
<polyline points="117,1492.1 133.9,1488.7 150.9,1470.3 167.8,1455.2 184.8,1440.2 201.7,1423.9"/>
<polyline points="117,1492.8 133.9,1489.4 150.9,1474.4 167.8,1458 184.8,1444.3 201.7,1429.3"/>
<polyline points="117,1493.5 133.9,1490.7 150.9,1478.5 167.8,1464.1 184.8,1452.5 201.7,1435.4"/>
<polyline points="117,1494.2 133.9,1492.1 150.9,1482.6 167.8,1468.2 184.8,1457.3 201.7,1445"/>
<polyline points="341.3,1486 358,1478.5 374.8,1463.4 391.5,1436.8 408.3,1418.4 425,1400.7"/>
<polyline points="341.3,1488 358,1479.8 374.8,1467.5 391.5,1443 408.3,1424.5 425,1408.2"/>
<polyline points="341.3,1489.4 358,1482.6 374.8,1472.3 391.5,1452.5 408.3,1440.2 425,1424.5"/>
<polyline points="341.3,1491.4 358,1487.3 374.8,1475.7 391.5,1457.3 408.3,1445.7 425,1428"/>
<polyline points="341.3,1493.5 358,1489.4 374.8,1480.5 391.5,1460.7 408.3,1448.4 425,1431.4"/>
<polyline points="341.3,1494.8 358,1490.7 374.8,1482.6 391.5,1463.4 408.3,1451.2 425,1434.1"/>
</g>
<g text-anchor="end">
<text x="93" y="1366.2">2000</text><text x="93" y="1434.5">1000</text><text x="93" y="1502.7">0</text>
<text x="313" y="1366.2">2000</text><text x="313" y="1434.5">1000</text><text x="313" y="1502.7">0</text>
</g>
<g text-anchor="middle">
<text x="117" y="1527.6">16</text><text x="159.4" y="1527.6">21</text><text x="201.7" y="1527.6">26</text>
<text x="159.4" y="1545.4">Day</text>
<text x="341.3" y="1527.6">16</text><text x="382.7" y="1527.6">21</text><text x="425" y="1527.6">26</text>
<text x="373" y="1545.4">Day</text>
<text transform="translate(42.5,1435.6) rotate(-90)">Tumor volume (mm<tspan dy="-7" font-size="11">3</tspan><tspan dy="7">)</tspan></text>
<text transform="translate(269,1435.6) rotate(-90)">Tumor volume (mm<tspan dy="-7" font-size="11">3</tspan><tspan dy="7">)</tspan></text>
</g>

<!-- ================= (o) ================= -->
<text class="L" x="522" y="1336">(o)</text>
<g stroke="#000" stroke-width="2.6" fill="none">
<path d="M619.4,1360.3 V1505.3 M618.1,1504 H740 M614.4,1360.3 H619.4 M614.4,1428.3 H619.4 M614.4,1496.2 H619.4 M637.2,1504 V1510 M679.5,1504 V1510 M722.4,1504 V1510"/>
</g>
<g stroke="#ff7f1e" stroke-width="2.2" fill="none">
<polyline points="637.2,1490 654.2,1484.3 671.3,1473.9 688.3,1456.5 705.4,1440.4 722.4,1421.4" stroke-width="2.6"/>
<path d="M637.2,1490 V1487 M654.2,1484.3 V1480.1 M650.7,1480.1 H657.7 M671.3,1473.9 V1464.9 M667.8,1464.9 H674.8 M688.3,1456.5 V1442.5 M684.8,1442.5 H691.8 M705.4,1440.4 V1425.6 M701.9,1425.6 H708.9 M722.4,1421.4 V1407.8 M718.9,1407.8 H725.9"/>
</g>
<g stroke="#ff7f1e" stroke-width="2" fill="#fff">
<circle cx="637.2" cy="1490" r="3.8"/><circle cx="654.2" cy="1484.3" r="3.8"/><circle cx="671.3" cy="1473.9" r="3.8"/><circle cx="688.3" cy="1456.5" r="3.8"/><circle cx="705.4" cy="1440.4" r="3.8"/><circle cx="722.4" cy="1421.4" r="3.8"/>
</g>
<g stroke="#1212c8" stroke-width="2.2" fill="none">
<polyline points="637.2,1492.7 654.2,1489.3 671.3,1476.4 688.3,1460.3 705.4,1447.1 722.4,1429.7" stroke-width="2.6"/>
<path d="M654.2,1489.3 V1486.8 M671.3,1476.4 V1469 M667.8,1469 H674.8 M688.3,1460.3 V1452.3 M684.8,1452.3 H691.8 M705.4,1447.1 V1437.7 M701.9,1437.7 H708.9 M722.4,1429.7 V1419.5 M718.9,1419.5 H725.9"/>
</g>
<g stroke="#1212c8" stroke-width="2" fill="#fff">
<circle cx="637.2" cy="1492.7" r="3.8"/><circle cx="654.2" cy="1489.3" r="3.8"/><circle cx="671.3" cy="1476.4" r="3.8"/><circle cx="688.3" cy="1460.3" r="3.8"/><circle cx="705.4" cy="1447.1" r="3.8"/><circle cx="722.4" cy="1429.7" r="3.8"/>
</g>
<circle cx="636.6" cy="1368.3" r="3.5" stroke="#1212c8" stroke-width="2" fill="#fff"/>
<line x1="633.6" y1="1368.3" x2="639.6" y2="1368.3" stroke="#1212c8" stroke-width="1.5"/>
<circle cx="636.6" cy="1390.6" r="3.5" stroke="#ff7f1e" stroke-width="2" fill="#fff"/>
<line x1="633.6" y1="1390.6" x2="639.6" y2="1390.6" stroke="#ff7f1e" stroke-width="1.5"/>
<text x="645.8" y="1374.3">Control</text>
<text x="645.8" y="1396.9">PPD+Zeb</text>
<g text-anchor="end">
<text x="610.5" y="1366.8">2000</text><text x="610.5" y="1434.8">1000</text><text x="610.5" y="1502.7">0</text>
</g>
<g text-anchor="middle">
<text x="637.2" y="1527.6">16</text><text x="679.5" y="1527.6">21</text><text x="722.4" y="1527.6">26</text>
<text x="680" y="1545.4">Day</text>
<text transform="translate(563,1435.6) rotate(-90)">Tumor volume (mm<tspan dy="-7" font-size="11">3</tspan><tspan dy="7">)</tspan></text>
</g>

<!-- ================= (p) ================= -->
<text class="L" x="820" y="1336">(p)</text>
<rect x="899.7" y="1453" width="31.7" height="48" fill="#fff" stroke="#1212c8" stroke-width="2.6"/>
<rect x="966.8" y="1449.2" width="31.3" height="51.8" fill="#fff" stroke="#ff8412" stroke-width="2.6"/>
<g stroke="#000" stroke-width="2.6" fill="none">
<path d="M880.9,1357.6 V1502.3 M879.6,1501 H1016.3 M875.9,1357.6 H880.9 M875.9,1405.4 H880.9 M875.9,1453.2 H880.9 M875.9,1501 H880.9 M915.6,1501 V1507.1 M982,1501 V1507.1"/>
<path d="M916,1425.6 H982" stroke-width="2.4"/>
</g>
<path d="M915.6,1463.4 V1440.8 M908.6,1440.8 H922.6 M908.6,1463.4 H922.6" stroke="#1212c8" stroke-width="2.4" fill="none"/>
<path d="M982.4,1458.6 V1439.4 M975.4,1439.4 H989.4 M975.4,1458.6 H989.4" stroke="#ff8412" stroke-width="2.4" fill="none"/>
<g fill="#1212c8"><circle cx="916.6" cy="1438.7" r="3"/><circle cx="912.3" cy="1441.2" r="3"/><circle cx="915.6" cy="1448.1" r="3"/><circle cx="914.6" cy="1455.5" r="3"/><circle cx="915.6" cy="1461.7" r="3"/><circle cx="917.3" cy="1467" r="3"/></g>
<g stroke="#ff8412" stroke-width="1.6" fill="#fff"><circle cx="985" cy="1435" r="3"/><circle cx="980" cy="1439.8" r="3"/><circle cx="982.6" cy="1444.6" r="3"/><circle cx="980" cy="1451.3" r="3"/><circle cx="985" cy="1453.4" r="3"/><circle cx="986.6" cy="1458.6" r="3"/></g>
<g text-anchor="end">
<text x="874" y="1364.1">3</text><text x="874" y="1411.9">2</text><text x="874" y="1459.7">1</text><text x="874" y="1507.5">0</text>
<text class="i" transform="translate(916.1,1521) rotate(-45)">Control</text>
<text class="i" transform="translate(982.5,1521) rotate(-45)">PPD+Zeb</text>
</g>
<text text-anchor="middle" transform="translate(854,1428.7) rotate(-90)">Tumor weight (g)</text>
<text x="907.3" y="1418.9"><tspan font-size="12" dy="-6">#</tspan><tspan dy="6" dx="0.5" class="i">P</tspan> = 0.5864</text>
</svg>
</body></html>
